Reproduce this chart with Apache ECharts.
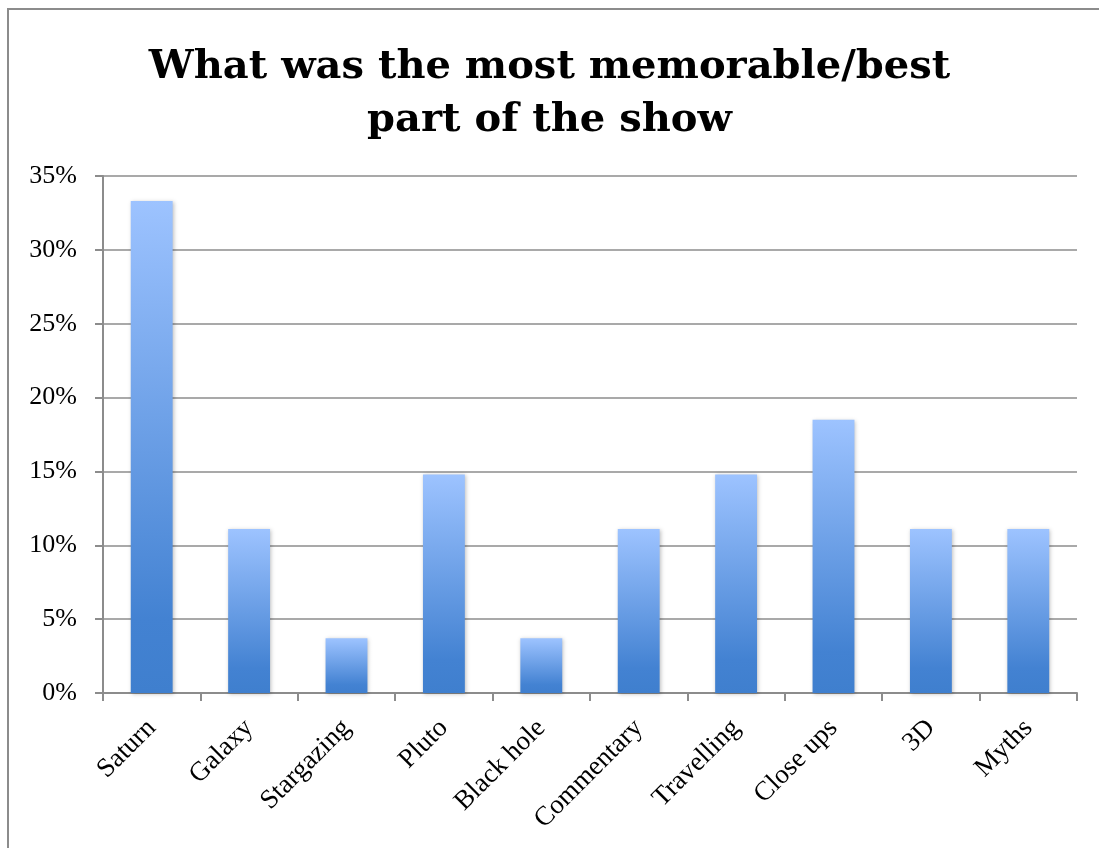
<!DOCTYPE html>
<html><head><meta charset="utf-8">
<script src="https://cdn.jsdelivr.net/npm/echarts@6/dist/echarts.min.js"></script>
<style>html,body{margin:0;padding:0;background:#fff}#c{width:1099px;height:848px}</style>
</head><body><div id="c"></div>
<script>
const titleText = 'What was the most memorable/best\npart of the show';
const categories = ['Saturn','Galaxy','Stargazing','Pluto','Black hole','Commentary','Travelling','Close ups','3D','Myths'];
const values = [0.333, 0.111, 0.037, 0.148, 0.037, 0.111, 0.148, 0.185, 0.111, 0.111];
const yTicks = [0, 0.05, 0.10, 0.15, 0.20, 0.25, 0.30, 0.35];

const chart = echarts.init(document.getElementById('c'), null, {renderer:'canvas'});
const serifT = '"DejaVu Serif", "Liberation Serif", serif';
const serif = '"Liberation Serif", "DejaVu Serif", serif';
chart.setOption({
  animation:false,
  backgroundColor:'#fff',
  graphic:[{type:'rect', shape:{x:8,y:9,width:1300,height:1000}, style:{fill:'none',stroke:'#8c8c8c',lineWidth:2}, silent:true}],
  title:{text:titleText, left:'center', top:36, textStyle:{fontFamily:serifT, fontWeight:'bold', fontSize:40, lineHeight:53, color:'#000'}},
  grid:{left:103, right:22, top:176, bottom:155, containLabel:false},
  xAxis:{type:'category', data:categories,
    axisLine:{lineStyle:{color:'#8c8c8c', width:2}},
    axisTick:{show:true, alignWithLabel:false, length:8, lineStyle:{color:'#8c8c8c', width:2}},
    axisLabel:{rotate:45, interval:0, margin:31, fontFamily:serif, fontSize:27, color:'#000'}},
  yAxis:{type:'value', min:0, max:0.35, interval:0.05,
    axisLine:{show:true, lineStyle:{color:'#8c8c8c', width:2}},
    axisTick:{show:true, length:8, lineStyle:{color:'#8c8c8c', width:2}},
    splitLine:{lineStyle:{color:'#8c8c8c', width:1.5}},
    axisLabel:{margin:26, fontFamily:serif, fontSize:26, color:'#000', formatter:v=>Math.round(v*100)+'%'}},
  series:[{type:'bar', data:values, barWidth:'43%',
    itemStyle:{color:new echarts.graphic.LinearGradient(0,0,0,1,[{offset:0,color:'#9DC3FF'},{offset:0.85,color:'#4382D2'},{offset:1,color:'#3F7FCE'}]),
      shadowBlur:4, shadowColor:'rgba(0,0,0,0.25)', shadowOffsetX:1, shadowOffsetY:1}}]
});
</script></body></html>
